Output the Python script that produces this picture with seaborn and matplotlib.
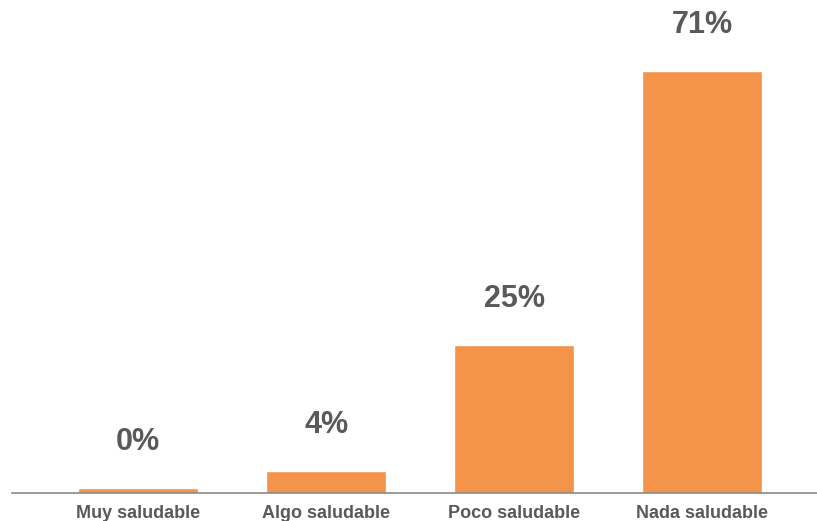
import matplotlib
matplotlib.use("Agg")
import matplotlib.pyplot as plt
import seaborn as sns
import pandas as pd

categories = ["Muy saludable", "Algo saludable", "Poco saludable", "Nada saludable"]
values = [0.8, 3.7, 24.8, 71.0]
labels = ["0%", "4%", "25%", "71%"]

sns.set_style("white")
plt.rcParams['font.family'] = ['Liberation Sans', 'DejaVu Sans']

df = pd.DataFrame({"cat": categories, "val": values})

fig = plt.figure(figsize=(8.17, 5.21), dpi=100)
ax = fig.add_axes([12/817, (521-492.7)/521, (817-12)/817, 492.7/521])
sns.barplot(data=df, x="cat", y="val", color="#F3944A", saturation=1, width=0.64, ax=ax)

ax.set_xlim(-0.67, 3.61)
ax.set_ylim(0, 82.9)
for i, (v, lab) in enumerate(zip(values, labels)):
    ax.annotate(lab, (i, v), xytext=(0, 33), textcoords="offset points",
                ha="center", va="center", fontsize=22, fontweight="bold", color="#595959")

ax.set_xlabel("")
ax.set_ylabel("")
ax.set_yticks([])
ax.tick_params(axis="x", length=0, pad=9)
for t in ax.get_xticklabels():
    t.set_fontsize(13)
    t.set_fontweight("bold")
    t.set_color("#595959")
for s in ["top", "right", "left"]:
    ax.spines[s].set_visible(False)
ax.spines["bottom"].set_color("#8a8a8a")
ax.spines["bottom"].set_linewidth(1.2)

fig.savefig("out.png", dpi=100)
